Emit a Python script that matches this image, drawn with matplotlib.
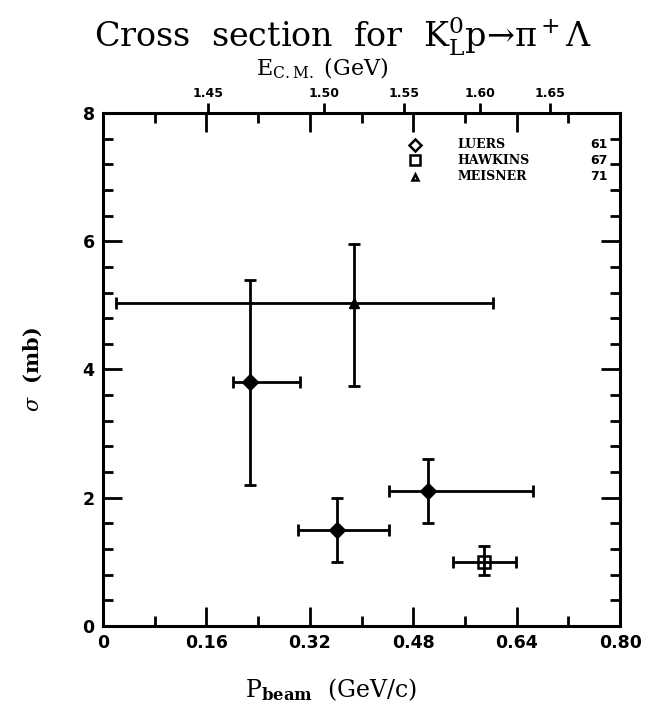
import matplotlib
matplotlib.use("Agg")
import matplotlib.pyplot as plt
import numpy as np
from matplotlib.ticker import MultipleLocator, FixedLocator

plt.rcParams["mathtext.fontset"] = "dejavuserif"

# Beam momentum (GeV/c) and cross section (mb) with asymmetric errors
luers_p = [0.228, 0.362, 0.502]
luers_p_lo = [0.201, 0.302, 0.442]
luers_p_hi = [0.304, 0.442, 0.665]
luers_s = [3.8, 1.5, 2.1]
luers_s_lo = [2.2, 1.0, 1.6]
luers_s_hi = [5.4, 2.0, 2.6]

hawkins_p = [0.590]
hawkins_p_lo = [0.541]
hawkins_p_hi = [0.639]
hawkins_s = [1.0]
hawkins_s_lo = [0.8]
hawkins_s_hi = [1.24]

meisner_p = [0.388]
meisner_p_lo = [0.02]
meisner_p_hi = [0.603]
meisner_s = [5.03]
meisner_s_lo = [3.74]
meisner_s_hi = [5.95]

# Centre-of-mass energy ticks on the top axis, placed at beam momentum
ecm_labels = ["1.45", "1.50", "1.55", "1.60", "1.65"]
ecm_p = [0.163, 0.342, 0.466, 0.583, 0.692]

legend_names = ["LUERS", "HAWKINS", "MEISNER"]
legend_years = ["61", "67", "71"]

fig = plt.figure(figsize=(6.48, 7.06), dpi=100)
ax = fig.add_axes([0.159, 0.1133, 0.798, 0.7267])

lw = 2.0
def draw(p, plo, phi, s, slo, shi, **kw):
    p = np.array(p); s = np.array(s)
    xerr = [p - np.array(plo), np.array(phi) - p]
    yerr = [s - np.array(slo), np.array(shi) - s]
    ax.errorbar(p, s, xerr=xerr, yerr=yerr, fmt="none", ecolor="black",
                elinewidth=lw, capsize=4.5, capthick=lw, zorder=2)
    ax.plot(p, s, linestyle="none", zorder=3, **kw)

draw(luers_p, luers_p_lo, luers_p_hi, luers_s, luers_s_lo, luers_s_hi,
     marker="D", markersize=8, color="black")
draw(hawkins_p, hawkins_p_lo, hawkins_p_hi, hawkins_s, hawkins_s_lo, hawkins_s_hi,
     marker="s", markersize=8, markerfacecolor="none", markeredgecolor="black",
     markeredgewidth=1.8)
draw(meisner_p, meisner_p_lo, meisner_p_hi, meisner_s, meisner_s_lo, meisner_s_hi,
     marker="^", markersize=7, color="black")

ax.set_xlim(0, 0.80)
ax.set_ylim(0, 8)
for sp in ax.spines.values():
    sp.set_linewidth(2.2)

tick_font = dict(family="DejaVu Sans", weight="bold", size=12.5)
ax.xaxis.set_minor_locator(MultipleLocator(0.08))
ax.yaxis.set_minor_locator(MultipleLocator(0.4))
ax.set_xticks([0, 0.16, 0.32, 0.48, 0.64, 0.80])
ax.set_xticklabels(["0", "0.16", "0.32", "0.48", "0.64", "0.80"], fontdict=tick_font)
ax.set_yticks([0, 2, 4, 6, 8])
ax.set_yticklabels(["0", "2", "4", "6", "8"], fontdict=tick_font)
ax.tick_params(which="major", direction="in", length=14, width=2.0,
               top=True, right=True, pad=6)
ax.tick_params(which="minor", direction="in", length=7, width=2.0,
               top=True, right=True)

# Top axis: centre-of-mass energy
sec = ax.secondary_xaxis("top")
sec.xaxis.set_major_locator(FixedLocator(ecm_p))
sec.set_xticklabels(ecm_labels, fontdict=dict(family="DejaVu Sans", weight="bold", size=9))
sec.tick_params(direction="out", length=7, width=2.0, pad=2)
sec.spines["top"].set_visible(False)
fig.text(0.497, 0.903, r"E$_{\rm C.M.}$ (GeV)", ha="center", va="center",
         family="DejaVu Serif", fontsize=16)

ax.set_xlabel(r"P$_{\bf beam}$  (GeV/c)", family="DejaVu Serif", fontsize=17)
ax.xaxis.set_label_coords(0.44, -0.098)
ax.set_ylabel(r"$\sigma$  (mb)", family="DejaVu Serif", fontsize=15,
              fontweight="bold")
ax.yaxis.set_label_coords(-0.115, 0.5)

fig.text(0.53, 0.948, "Cross  section  for  K$^0_{\\rm L}$p\u2192\u03c0$^+$\u039b",
         ha="center", va="center", family="DejaVu Serif", fontsize=24)

# Legend block
leg_y = [0.938, 0.908, 0.876]
leg_markers = [dict(marker="D", markersize=6), dict(marker="s", markersize=7),
               dict(marker="^", markersize=5)]
for y, mk, name, yr in zip(leg_y, leg_markers, legend_names, legend_years):
    ax.plot([0.603], [y], transform=ax.transAxes, linestyle="none",
            markerfacecolor="none", markeredgecolor="black", markeredgewidth=1.8,
            clip_on=False, **mk)
    ax.text(0.685, y, name, transform=ax.transAxes, ha="left", va="center",
            family="DejaVu Serif", weight="bold", fontsize=9)
    ax.text(0.975, y, yr, transform=ax.transAxes, ha="right", va="center",
            family="DejaVu Sans", weight="bold", fontsize=9)

fig.savefig("out.png", dpi=100)
